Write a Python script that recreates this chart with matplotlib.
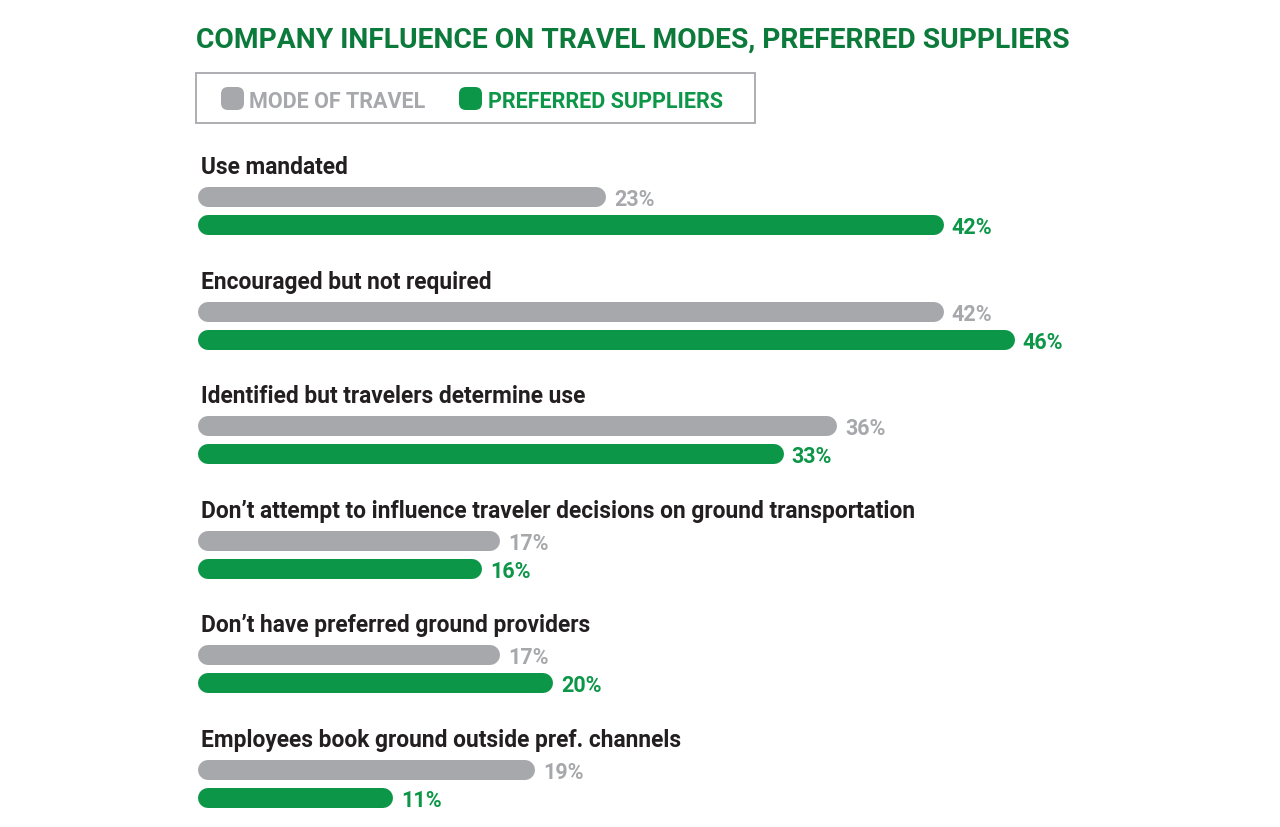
import matplotlib.pyplot as plt
from matplotlib.patches import FancyBboxPatch, Rectangle

categories = ["Use mandated",
              "Encouraged but not required",
              "Identified but travelers determine use",
              "Don\u2019t attempt to influence traveler decisions on ground transportation",
              "Don\u2019t have preferred ground providers",
              "Employees book ground outside pref. channels"]
mode_of_travel = [23, 42, 36, 17, 17, 19]
preferred_suppliers = [42, 46, 33, 16, 20, 11]
series_names = ["MODE OF TRAVEL", "PREFERRED SUPPLIERS"]
title = "COMPANY INFLUENCE ON TRAVEL MODES, PREFERRED SUPPLIERS"

GRAY = "#a7a8ab"
GREEN = "#0c9647"
TITLE_GREEN = "#0b7a3a"
DARK = "#231f20"

plt.rcParams['font.family'] = ["Roboto", "DejaVu Sans"]

W, H = 1280, 828
fig = plt.figure(figsize=(W / 100, H / 100), dpi=100)

# px per percent and bar start
scale = 17.75
x0 = 198
ax = fig.add_axes([0, 0, 1, 1])
ax.set_xlim(-x0 / scale, (W - x0) / scale)
ax.set_ylim(H, 0)
ax.axis('off')

ov = fig.add_axes([0, 0, 1, 1], facecolor='none')
ov.set_xlim(0, W)
ov.set_ylim(H, 0)
ov.axis('off')

# title
ov.text(196, 48, title, color=TITLE_GREEN, fontsize=20.3, fontweight='bold', va='baseline', ha='left')

# legend box
ov.add_patch(Rectangle((196, 74), 559, 50, fill=False, edgecolor=GRAY, linewidth=1.3))
for mx, tx, col, name in [(221, 249, GRAY, series_names[0]), (459, 488, GREEN, series_names[1])]:
    ov.add_patch(FancyBboxPatch((mx + 7, 95), 9, 9, boxstyle="round,pad=7", facecolor=col, edgecolor='none'))
    ov.text(tx, 108, name, color=col, fontsize=15.5, fontweight='bold', va='baseline', ha='left')

r = 10 / scale  # cap radius in data units
lw = 20 * 72 / 100
row_gap = 114.6
for i, cat in enumerate(categories):
    ly = 174 + row_gap * i
    ax.text(0.15, ly, cat, color=DARK, fontsize=16.4, fontweight='bold', va='baseline', ha='left')
    for j, (vals, col) in enumerate([(mode_of_travel, GRAY), (preferred_suppliers, GREEN)]):
        v = vals[i]
        by = ly + 24 + 28 * j
        ax.plot([r, v - r], [by, by], color=col, linewidth=lw, solid_capstyle='round')
        ax.text(v + 8 / scale, by + 8, f"{v}%", color=col, fontsize=15.5, fontweight='bold', va='baseline', ha='left')

fig.savefig("out.png", dpi=100)
